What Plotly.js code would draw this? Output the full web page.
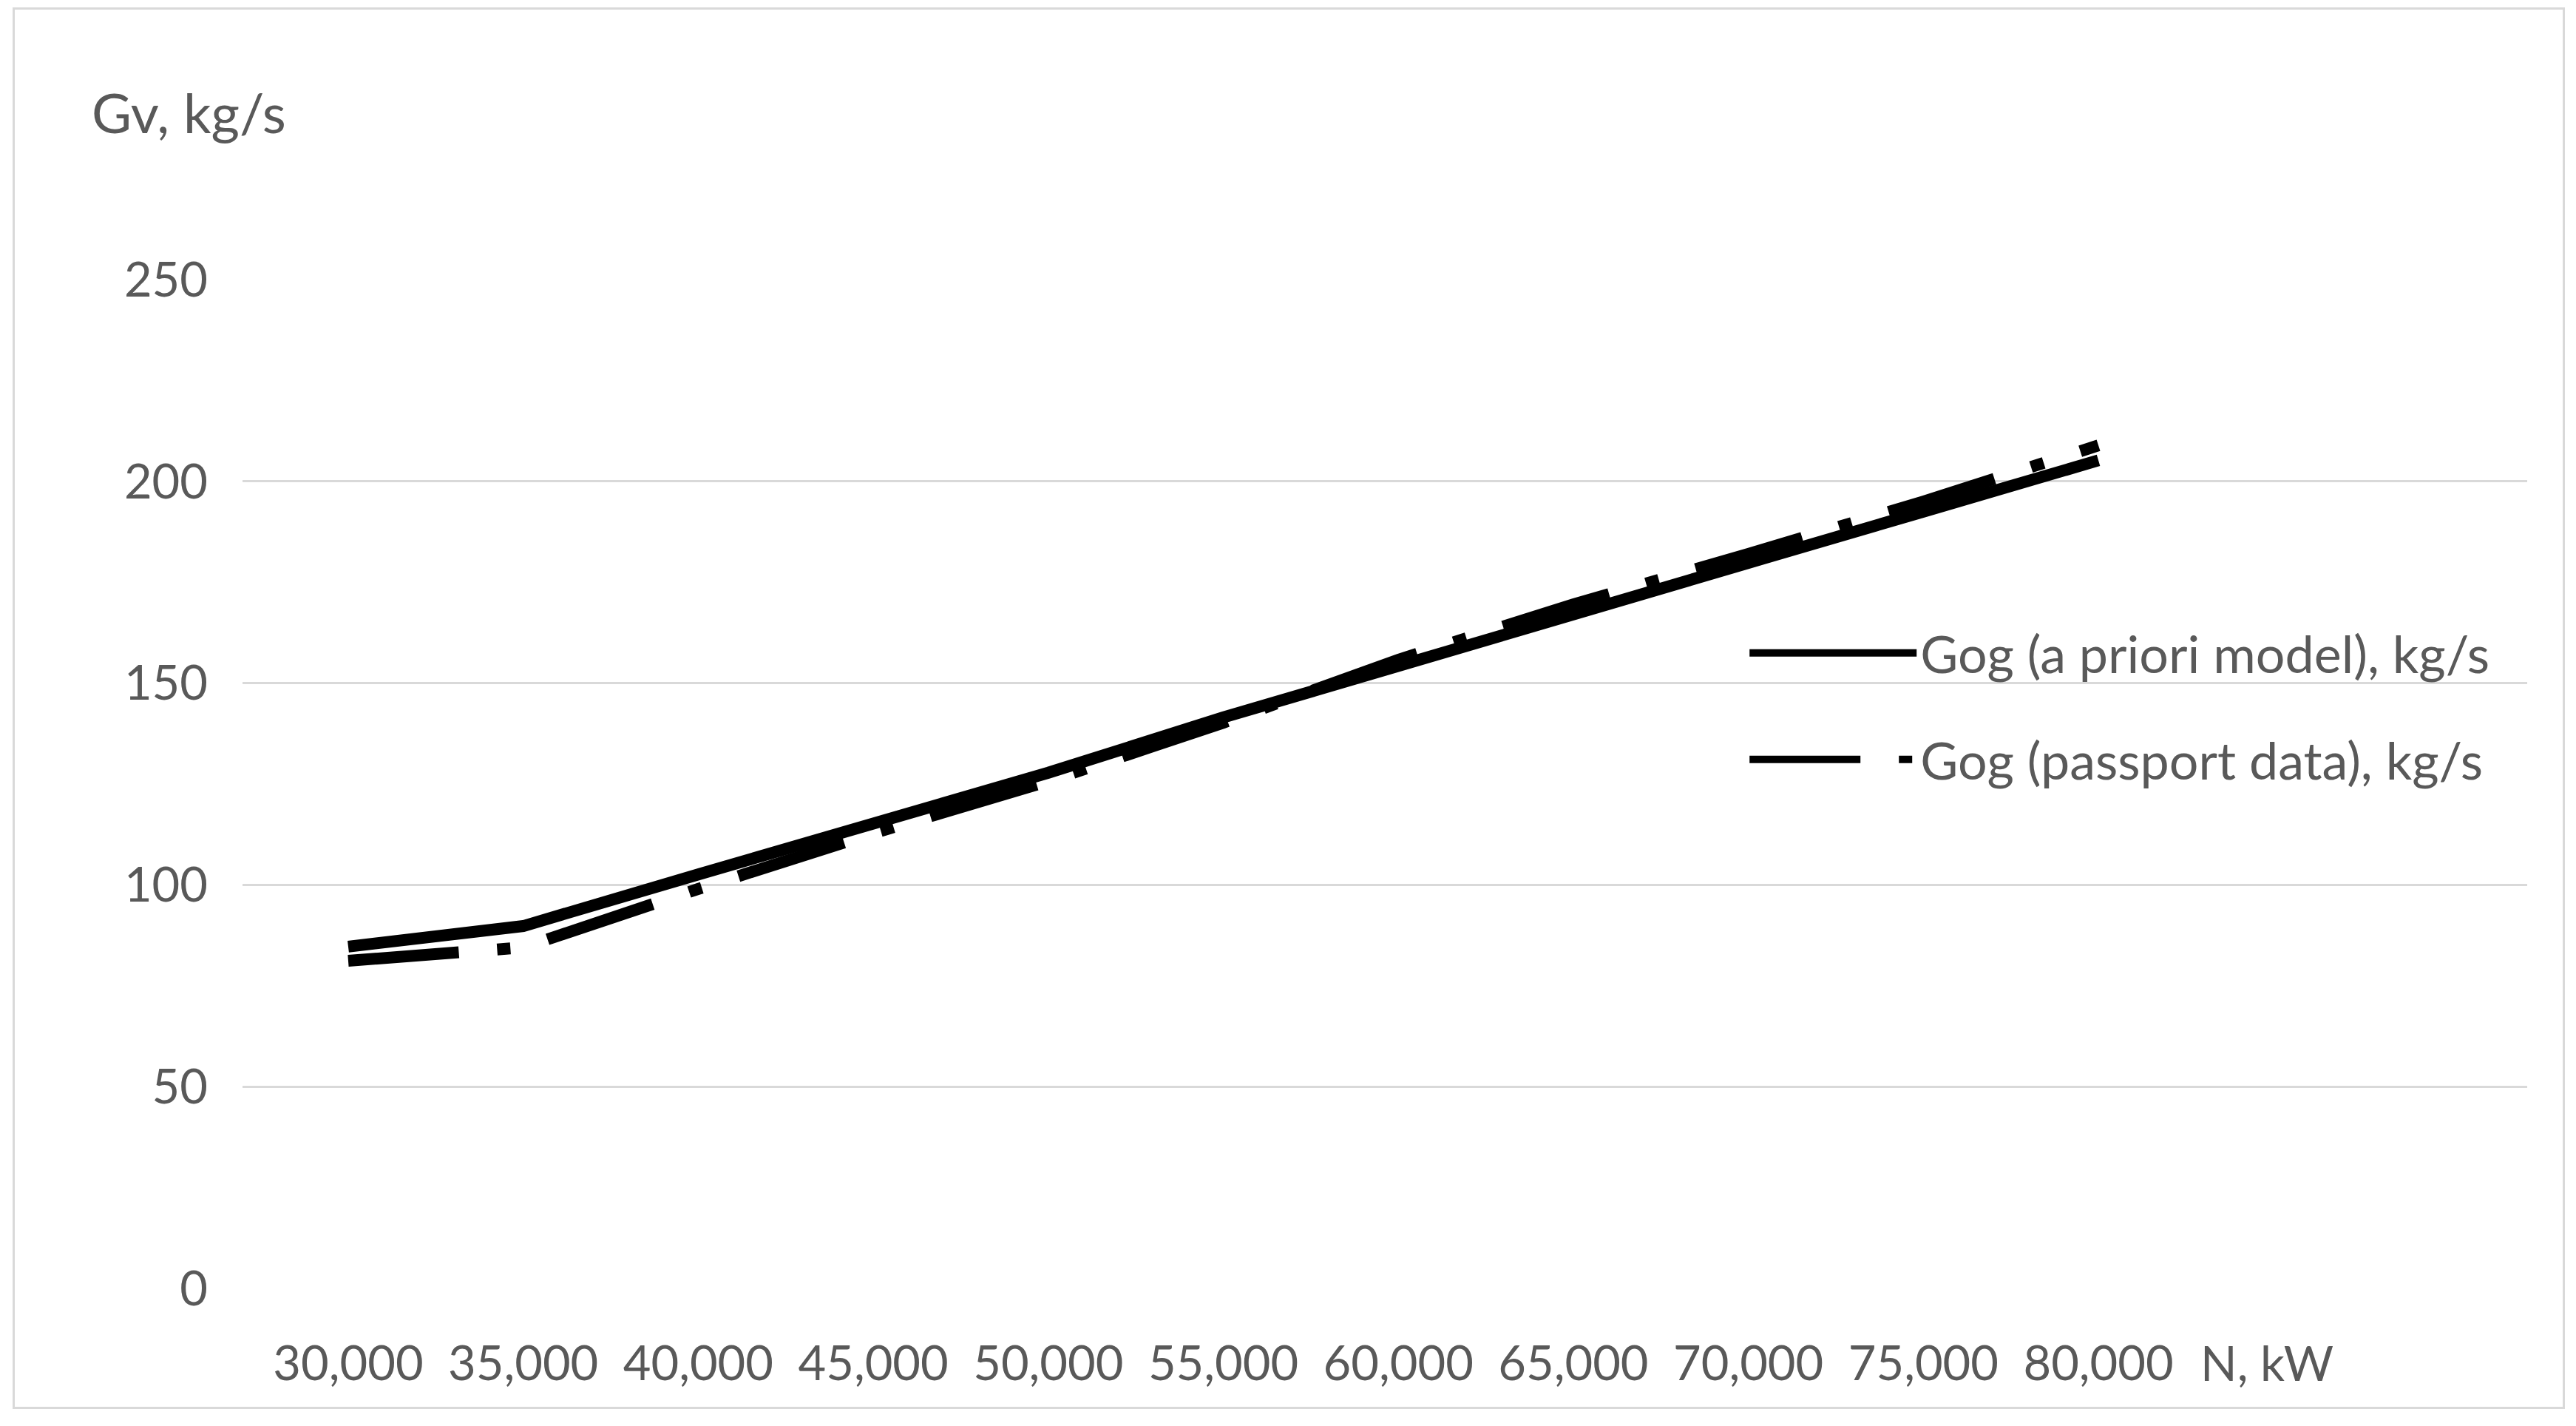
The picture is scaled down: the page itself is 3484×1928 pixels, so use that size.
<!DOCTYPE html>
<html>
<head>
<meta charset="utf-8">
<script src="https://cdn.plot.ly/plotly-3.0.1.min.js"></script>
<style>
  body { margin: 0; background: #fff; }
  #plot { width: 3484px; height: 1928px; }
  #frame { position: absolute; left: 17px; top: 10px; width: 3446px; height: 1889px;
           border: 3px solid #d9d9d9; pointer-events: none; }
</style>
</head>
<body>
<div id="plot"></div>
<div id="frame"></div>
<script>
// N, kW
var power = [30000, 35000, 40000, 45000, 50000, 55000, 60000, 65000, 70000, 75000, 80000];
// Gog, kg/s
var gogModel = [84.7, 89.8, 102.6, 115.3, 127.8, 141.5, 154.5, 167.2, 179.8, 192.5, 205.2];
var gogPassport = [81.2, 84.5, 99.0, 112.8, 125.7, 140.2, 155.8, 169.5, 182.0, 195.0, 208.9];
var yTicks = [0, 50, 100, 150, 200, 250];

var textColor = "#595959";
var fontFamily = "Lato, 'Open Sans', sans-serif";

var trace1 = {
  x: power,
  y: gogModel,
  mode: "lines",
  type: "scatter",
  name: "Gog (a priori model), kg/s",
  legendgroup: "a",
  line: { color: "black", width: 16 }
};
var trace2 = {
  x: power,
  y: gogPassport,
  mode: "lines",
  type: "scatter",
  name: "Gog (passport data), kg/s",
  legendgroup: "b",
  line: { color: "black", width: 16, dash: "150px,52px,18px,52px" }
};

var layout = {
  width: 3484,
  height: 1928,
  margin: { l: 328, r: 66, t: 378, b: 186 },
  paper_bgcolor: "white",
  plot_bgcolor: "white",
  font: { family: fontFamily, color: textColor, size: 64 },
  showlegend: true,
  legend: {
    x: 0.658, y: 0.668, xanchor: "left", yanchor: "top",
    itemwidth: 226,
    traceorder: "grouped",
    tracegroupgap: 50,
    font: { family: fontFamily, color: textColor, size: 70 },
    bgcolor: "rgba(0,0,0,0)"
  },
  xaxis: {
    type: "linear",
    range: [26980, 92250],
    tickvals: power,
    ticktext: power.map(v => v.toLocaleString("en-US")),
    showgrid: false,
    zeroline: false,
    showline: false,
    ticks: "",
    ticklabelstandoff: 58,
    tickfont: { size: 65, color: textColor }
  },
  yaxis: {
    range: [0, 250],
    tickvals: yTicks,
    showgrid: true,
    gridcolor: "#d9d9d9",
    gridwidth: 3,
    zeroline: false,
    showline: false,
    ticks: "",
    ticklabelstandoff: 46,
    tickfont: { size: 65, color: textColor }
  },
  annotations: [
    { text: "Gv, kg/s", xref: "paper", yref: "paper", x: -0.0235, y: 1.166,
      xanchor: "center", yanchor: "middle", showarrow: false,
      font: { size: 74, color: textColor } },
    { text: "N, kW", xref: "paper", yref: "paper", x: 0.886, y: -0.0735,
      xanchor: "center", yanchor: "middle", showarrow: false,
      font: { size: 65, color: textColor } }
  ]
};

Plotly.newPlot("plot", [trace1, trace2], layout, { displayModeBar: false });
</script>
</body>
</html>
